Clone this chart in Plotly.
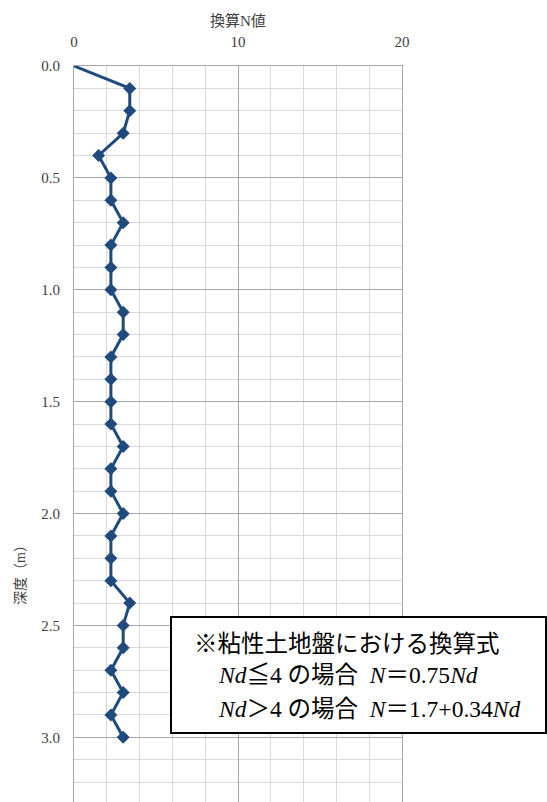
import plotly.graph_objects as go

# Converted N value by depth (Swedish weight sounding)
depth_m = [0.0, 0.1, 0.2, 0.3, 0.4, 0.5, 0.6, 0.7, 0.8, 0.9, 1.0,
           1.1, 1.2, 1.3, 1.4, 1.5, 1.6, 1.7, 1.8, 1.9, 2.0,
           2.1, 2.2, 2.3, 2.4, 2.5, 2.6, 2.7, 2.8, 2.9, 3.0]
n_value = [0.0, 3.4, 3.4, 3.0, 1.5, 2.25, 2.25, 3.0, 2.25, 2.25, 2.25,
           3.0, 3.0, 2.25, 2.25, 2.25, 2.25, 3.0, 2.25, 2.25, 3.0,
           2.25, 2.25, 2.25, 3.4, 3.0, 3.0, 2.25, 3.0, 2.25, 3.0]

x_title = "換算N値"
y_title = "深度（m）"
note_lines = [
    "※粘性土地盤における換算式",
    "<i>Nd</i>≦4 の場合  <i>N</i>＝0.75<i>Nd</i>",
    "<i>Nd</i>＞4 の場合  <i>N</i>＝1.7+0.34<i>Nd</i>",
]

W, H = 547, 802
L, R, T, B = 74, 145, 66, 0
PW, PH = W - L - R, H - T - B


def px(x):
    return (x - L) / PW


def py(y):
    return (H - B - y) / PH


serif = "Liberation Serif, Noto Sans CJK JP, serif"
navy = "#1f4a7c"
minor_grid = "#d9d9d9"
major_grid = "#a6a6a6"

# the surface point (depth 0) is drawn as a line end only, without a marker
marker_sizes = [0 if d == 0 else 10 for d in depth_m]

fig = go.Figure(go.Scatter(
    x=n_value, y=depth_m, mode="lines+markers",
    line=dict(color=navy, width=3),
    marker=dict(symbol="diamond", size=marker_sizes, color=navy,
                opacity=1, line=dict(width=0)),
    hoverinfo="skip", showlegend=False,
))

fig.update_xaxes(
    side="top", range=[0, 20], tick0=0, dtick=10,
    showgrid=True, gridcolor=major_grid, gridwidth=1,
    minor=dict(dtick=2, showgrid=True, gridcolor=minor_grid, gridwidth=1),
    showline=True, linecolor=major_grid, linewidth=1, mirror=False,
    zeroline=False, ticks="outside", ticklen=12, tickcolor="rgba(0,0,0,0)",
    tickfont=dict(family="Liberation Serif", size=15, color="#404040"),
)
fig.update_yaxes(
    range=[3.289, 0], tick0=0, dtick=0.5, tickformat=".1f",
    showgrid=True, gridcolor=major_grid, gridwidth=1,
    minor=dict(dtick=0.1, showgrid=True, gridcolor=minor_grid, gridwidth=1),
    showline=True, linecolor=major_grid, linewidth=1, mirror=True,
    zeroline=False, ticks="outside", ticklen=10, tickcolor="rgba(0,0,0,0)",
    tickfont=dict(family="Liberation Serif", size=15, color="#404040"),
)

annotations = [
    dict(text=x_title, x=px(238), y=py(20), xref="paper", yref="paper",
         showarrow=False, xanchor="center", yanchor="middle",
         font=dict(family=serif, size=15, color="#404040")),
    dict(text=y_title, x=px(20), y=py(572), xref="paper", yref="paper",
         showarrow=False, xanchor="center", yanchor="middle", textangle=-90,
         font=dict(family=serif, size=14, color="#404040")),
]
note_pos = [(192, 644), (216, 675), (216, 709)]
for line, (lx, ly) in zip(note_lines, note_pos):
    annotations.append(dict(
        text=line, x=px(lx), y=py(ly), xref="paper", yref="paper",
        showarrow=False, xanchor="left", yanchor="middle",
        font=dict(family=serif, size=23.5, color="#000000")))

fig.update_layout(
    width=W, height=H,
    margin=dict(l=L, r=R, t=T, b=B, pad=0),
    paper_bgcolor="white", plot_bgcolor="white",
    annotations=annotations,
    shapes=[dict(type="rect", xref="paper", yref="paper",
                 x0=px(171), x1=px(546), y0=py(733), y1=py(617),
                 fillcolor="white", line=dict(color="black", width=2),
                 layer="above")],
)

fig.write_html("out.html")
